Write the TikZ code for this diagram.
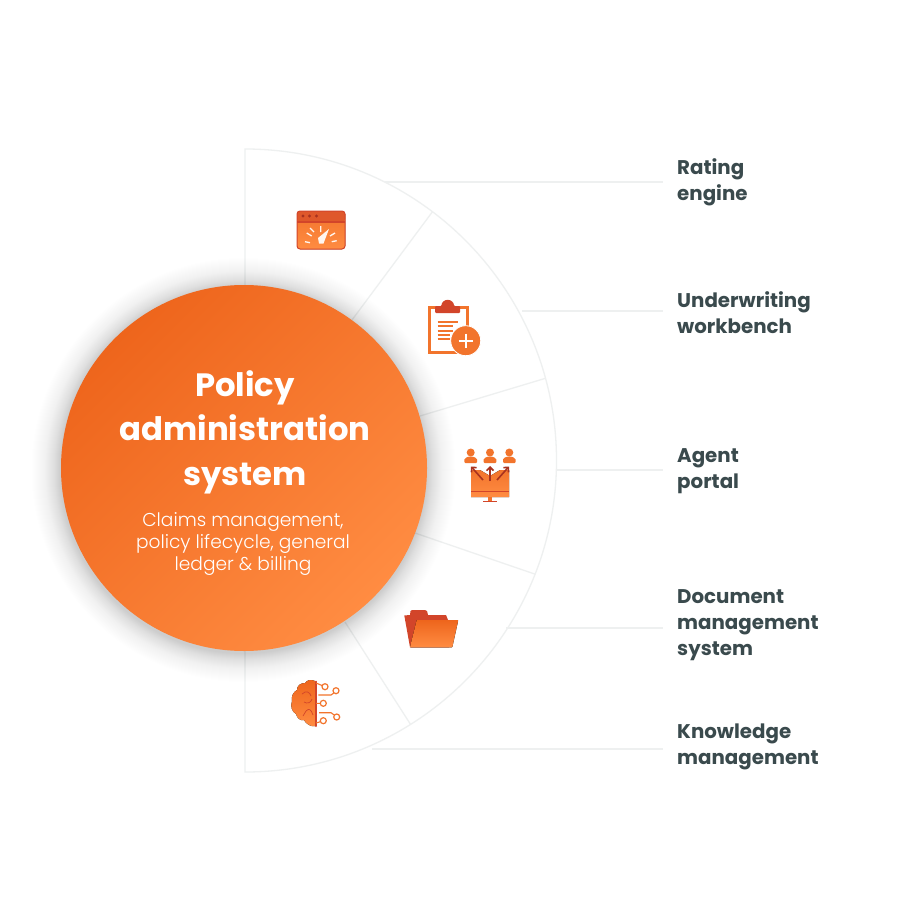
\documentclass[tikz,border=0pt]{standalone}
\usepackage{fontspec}
\setmainfont{Poppins}
\newfontfamily\lightf{Poppins Light}
\usetikzlibrary{calc,arrows.meta}
\definecolor{grayline}{HTML}{EEF0F0}
\definecolor{labeltext}{HTML}{3A4A4D}
\definecolor{oA}{HTML}{EE651C}
\definecolor{oB}{HTML}{FF8C42}
\definecolor{oDark}{HTML}{D2452A}
\definecolor{oMid}{HTML}{F2742C}
\definecolor{oDeep}{HTML}{A8321F}
\tikzset{
 ring/.style={draw=grayline,line width=1.3pt},
 lead/.style={draw=grayline,line width=1.3pt},
 lab/.style={anchor=west,align=left,inner sep=0pt,text=labeltext,font=\fontsize{19.8}{26}\selectfont\bfseries},
 brl/.style={draw=oMid,line width=1.1pt},
 nodefill/.style={draw=oMid,line width=1.2pt,fill=white},
 tick/.style={draw=white!92!oB,line width=1.3pt},
 arr/.style={draw=oDeep,line width=1.6pt,-{Straight Barb[length=3.5pt,width=7pt]}},
}
\begin{document}
\begin{tikzpicture}[x=1pt,y=-1pt]
\useasboundingbox (0,0) rectangle (920,920);
\fill[white] (0,0) rectangle (920,920);
\def\cx{245}\def\cy{460.5}\def\R{311.5}
\coordinate (O) at (\cx,\cy);
% outer half circle
\draw[ring] (\cx,149) arc[start angle=-90,end angle=90,radius=\R] -- cycle;
% dividers
\coordinate (d1) at ($(O)+(-53:\R)$);
\coordinate (d2) at ($(O)+(-15.3:\R)$);
\coordinate (d3) at ($(O)+(21.4:\R)$);
\coordinate (d4) at ($(O)+(57.9:\R)$);
\coordinate (h1) at (352,320);
\coordinate (h2) at (420,416);
\coordinate (h3) at (415,533);
\coordinate (h4) at (345,622);
\draw[lead] (h1)--(d1); \draw[lead] (h2)--(d2); \draw[lead] (h3)--(d3); \draw[lead] (h4)--(d4);
% shadow
\foreach \r in {184,...,226}{
 \pgfmathsetmacro\o{0.0125*((226-\r)/42)^2+0.0006}
 \fill[black,opacity=\o] (243.5,470) circle[radius=\r];}
% main circle
\node[circle,minimum size=366pt,inner sep=0pt,shading=axis,left color=oA,right color=oB,shading angle=45,draw=none] (hub) at (244,468) {};
% labels
\node[lab] (l1) at (677,182) {Rating\\engine};
\node[lab] (l2) at (677,312.5) {Underwriting\\workbench};
\node[lab] (l3) at (677,471.5) {Agent\\portal};
\node[lab] (l4) at (677,625) {Document\\management\\system};
\node[lab] (l5) at (677,746.5) {Knowledge\\management};
\coordinate (a1) at (385,182);
\coordinate (a2) at (522,311);
\coordinate (a3) at (557,470);
\coordinate (a4) at (506,628);
\coordinate (a5) at (372,749);
\coordinate (e1) at (663,182);
\coordinate (e2) at (663,311);
\coordinate (e3) at (663,470);
\coordinate (e4) at (663,628);
\coordinate (e5) at (663,749);
\foreach \i in {1,...,5}\draw[lead] (a\i)--(e\i);
% hub text
\node[text=white,align=center,inner sep=0pt,font=\fontsize{32.3}{44.5}\selectfont\bfseries] (t1) at (245,432) {Policy\\administration\\system};
\node[text=white,align=center,inner sep=0pt,font=\lightf\fontsize{18.6}{22}\selectfont] (t2) at (243,544) {Claims management,\\policy lifecycle, general\\ledger \& billing};
% icon 1
\fill[top color=oMid,bottom color=oB,rounded corners=3pt] (297,211) rectangle (345,249);
\fill[oDark!60!oMid,rounded corners=3pt] (297,222) -- (297,211) -- (345,211) -- (345,222) -- cycle;
\draw[oDark,line width=1pt,rounded corners=3pt] (297,211) rectangle (345,249);
\draw[oDark,line width=1.2pt] (297,222) -- (345,222);
\foreach \x in {303,309.5,316.5}\fill[oDeep] (\x,216) circle[radius=1.6];
\draw[tick] (310,228)--(314,232) (320.7,226)--(320.7,232) (335,233)--(330,236) (336.7,240.7)--(331.7,241.7) (305,241.7)--(310,242.7) (306.7,233)--(311.7,236);
\fill[white!92!oB] (329,229)--(323.5,243.5)--(319,243.5)--(318,238)--cycle;
% icon 2
\draw[oMid,line width=3pt,fill=white] (429,307.5) rectangle (467,352);
\fill[oDark,rounded corners=1pt] (435,313) -- (435,306) -- (441.5,306) -- (441.5,306) arc[start angle=180,end angle=360,radius=6.2] -- (460,306) -- (460,313) -- cycle;
\foreach \y/\e in {321.7/457.7,326/453.3,330.7/453.3,335/450,339/450}\draw[oMid,line width=1.8pt] (437.7,\y)--(\e,\y);
\fill[oMid,draw=white,line width=.8pt] (465.7,340.7) circle[radius=15];
\draw[white,line width=2pt] (458.7,340.7)--(472.7,340.7) (465.7,333.7)--(465.7,347.7);
% icon 3
\foreach \x in {470.7,490,509.3}{
 \fill[oMid] (\x,452.5) circle[radius=4];
 \fill[oMid,rounded corners=1pt] (\x-6.3,463) -- (\x-6.3,460.5) arc[start angle=180,end angle=360,x radius=6.3,y radius=4] -- (\x+6.3,463) -- cycle;}
\fill[top color=oMid,bottom color=oB] (471,470) -- (480,470) -- (490,476) -- (500,470) -- (509,470) -- (509,497) -- (471,497) -- cycle;
\draw[oDark,line width=.9pt] (471,491.5)--(509,491.5);
\fill[oMid] (488,497) rectangle (492,501);
\draw[oDark,line width=1.2pt] (483,501.5)--(497,501.5);
\draw[arr] (490,481)--(490,466);
\draw[arr] (483,480)--(471,466.5);
\draw[arr] (497,480)--(509,466.5);
% icon 4
\fill[oDark] (410,647.3) -- (404.3,615.5) -- (410,615) -- (410.5,611) -- (412,610) -- (425,610) -- (427,611) -- (428,615) -- (446,615) -- (448,620) -- (449,647.3) -- cycle;
\fill[top color=oA,bottom color=oB,rounded corners=.6pt] (410,647.3) -- (416.7,620) -- (458.3,620) -- (452.3,647.3) -- cycle;
% icon 5
\fill[top color=oA,bottom color=oB] (315,681) .. controls (311,679) and (307,680) .. (305,683) .. controls (300,683) and (297,686) .. (297,690) .. controls (293,692) and (291,697) .. (292,701) .. controls (290,706) and (292,712) .. (296,714) .. controls (297,718) and (300,721) .. (304,720) .. controls (306,724) and (311,727) .. (315,726) -- cycle;
\draw[oDark,line width=.7pt] (302,694) .. controls (306,690) and (310,692) .. (311,696) (304,702) .. controls (307,704) and (311,703) .. (312,699) (306,711) .. controls (309,708) and (311,709) .. (313,715) (306,711) -- (303,716);
\draw[oDark,line width=2pt,line cap=round] (315.5,681.5)--(315.5,726);
\draw[brl] (316,683)--(322,685.5) (318.3,695)--(331,695)--(333.8,693)
 (316,703.3)--(320,703.3) (319,712.7)--(331,712.7)--(334.2,715) (316,723)--(321,721.5);
\draw[nodefill] (325,686.7) circle[radius=3];
\draw[nodefill] (336,690.7) circle[radius=3];
\draw[nodefill] (323.3,703.3) circle[radius=3];
\draw[nodefill] (336.7,717) circle[radius=3];
\draw[nodefill] (323.3,720.7) circle[radius=3];
\end{tikzpicture}
\end{document}
